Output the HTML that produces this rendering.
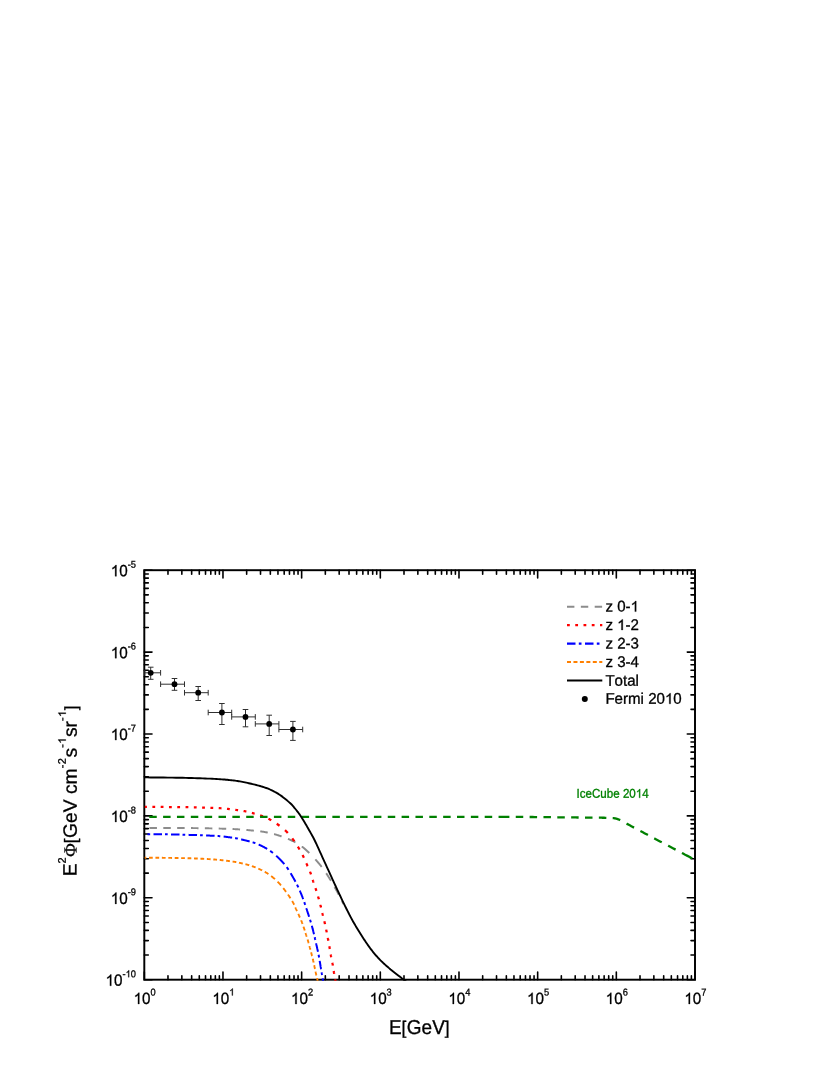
<!DOCTYPE html>
<html><head><meta charset="utf-8"><title>Chart</title>
<style>html,body{margin:0;padding:0;background:#fff;}svg{display:block;will-change:transform;}text{font-family:"Liberation Sans",sans-serif;fill:#000;stroke:#000;stroke-width:0.3px;font-kerning:none;white-space:pre;}tspan.h{fill:none !important;stroke:none !important;}</style>
</head><body>
<svg width="830" height="1075" viewBox="0 0 830 1075">
<rect x="0" y="0" width="830" height="1075" fill="#ffffff"/>
<defs><clipPath id="clip"><rect x="143.30" y="569.20" width="552.70" height="411.50"/></clipPath></defs>
<rect x="144.30" y="570.20" width="550.70" height="409.50" stroke="#000" stroke-width="1.95" fill="none"/>
<path d="M144.30 979.70 v-7.70 M144.30 570.20 v7.70 M167.98 979.70 v-4.00 M167.98 570.20 v4.00 M181.84 979.70 v-4.00 M181.84 570.20 v4.00 M191.66 979.70 v-4.00 M191.66 570.20 v4.00 M199.29 979.70 v-4.00 M199.29 570.20 v4.00 M205.52 979.70 v-4.00 M205.52 570.20 v4.00 M210.79 979.70 v-4.00 M210.79 570.20 v4.00 M215.35 979.70 v-4.00 M215.35 570.20 v4.00 M219.37 979.70 v-4.00 M219.37 570.20 v4.00 M222.97 979.70 v-7.70 M222.97 570.20 v7.70 M246.65 979.70 v-4.00 M246.65 570.20 v4.00 M260.51 979.70 v-4.00 M260.51 570.20 v4.00 M270.34 979.70 v-4.00 M270.34 570.20 v4.00 M277.96 979.70 v-4.00 M277.96 570.20 v4.00 M284.19 979.70 v-4.00 M284.19 570.20 v4.00 M289.46 979.70 v-4.00 M289.46 570.20 v4.00 M294.02 979.70 v-4.00 M294.02 570.20 v4.00 M298.04 979.70 v-4.00 M298.04 570.20 v4.00 M301.64 979.70 v-7.70 M301.64 570.20 v7.70 M325.33 979.70 v-4.00 M325.33 570.20 v4.00 M339.18 979.70 v-4.00 M339.18 570.20 v4.00 M349.01 979.70 v-4.00 M349.01 570.20 v4.00 M356.63 979.70 v-4.00 M356.63 570.20 v4.00 M362.86 979.70 v-4.00 M362.86 570.20 v4.00 M368.13 979.70 v-4.00 M368.13 570.20 v4.00 M372.69 979.70 v-4.00 M372.69 570.20 v4.00 M376.71 979.70 v-4.00 M376.71 570.20 v4.00 M380.31 979.70 v-7.70 M380.31 570.20 v7.70 M404.00 979.70 v-4.00 M404.00 570.20 v4.00 M417.85 979.70 v-4.00 M417.85 570.20 v4.00 M427.68 979.70 v-4.00 M427.68 570.20 v4.00 M435.30 979.70 v-4.00 M435.30 570.20 v4.00 M441.53 979.70 v-4.00 M441.53 570.20 v4.00 M446.80 979.70 v-4.00 M446.80 570.20 v4.00 M451.36 979.70 v-4.00 M451.36 570.20 v4.00 M455.39 979.70 v-4.00 M455.39 570.20 v4.00 M458.99 979.70 v-7.70 M458.99 570.20 v7.70 M482.67 979.70 v-4.00 M482.67 570.20 v4.00 M496.52 979.70 v-4.00 M496.52 570.20 v4.00 M506.35 979.70 v-4.00 M506.35 570.20 v4.00 M513.97 979.70 v-4.00 M513.97 570.20 v4.00 M520.20 979.70 v-4.00 M520.20 570.20 v4.00 M525.47 979.70 v-4.00 M525.47 570.20 v4.00 M530.03 979.70 v-4.00 M530.03 570.20 v4.00 M534.06 979.70 v-4.00 M534.06 570.20 v4.00 M537.66 979.70 v-7.70 M537.66 570.20 v7.70 M561.34 979.70 v-4.00 M561.34 570.20 v4.00 M575.19 979.70 v-4.00 M575.19 570.20 v4.00 M585.02 979.70 v-4.00 M585.02 570.20 v4.00 M592.65 979.70 v-4.00 M592.65 570.20 v4.00 M598.88 979.70 v-4.00 M598.88 570.20 v4.00 M604.14 979.70 v-4.00 M604.14 570.20 v4.00 M608.70 979.70 v-4.00 M608.70 570.20 v4.00 M612.73 979.70 v-4.00 M612.73 570.20 v4.00 M616.33 979.70 v-7.70 M616.33 570.20 v7.70 M640.01 979.70 v-4.00 M640.01 570.20 v4.00 M653.86 979.70 v-4.00 M653.86 570.20 v4.00 M663.69 979.70 v-4.00 M663.69 570.20 v4.00 M671.32 979.70 v-4.00 M671.32 570.20 v4.00 M677.55 979.70 v-4.00 M677.55 570.20 v4.00 M682.81 979.70 v-4.00 M682.81 570.20 v4.00 M687.38 979.70 v-4.00 M687.38 570.20 v4.00 M691.40 979.70 v-4.00 M691.40 570.20 v4.00 M695.00 979.70 v-7.70 M695.00 570.20 v7.70 M144.30 570.20 h7.70 M695.00 570.20 h-7.70 M144.30 627.45 h4.00 M695.00 627.45 h-4.00 M144.30 613.02 h4.00 M695.00 613.02 h-4.00 M144.30 602.79 h4.00 M695.00 602.79 h-4.00 M144.30 594.85 h4.00 M695.00 594.85 h-4.00 M144.30 588.37 h4.00 M695.00 588.37 h-4.00 M144.30 582.89 h4.00 M695.00 582.89 h-4.00 M144.30 578.14 h4.00 M695.00 578.14 h-4.00 M144.30 573.95 h4.00 M695.00 573.95 h-4.00 M144.30 652.10 h7.70 M695.00 652.10 h-7.70 M144.30 709.35 h4.00 M695.00 709.35 h-4.00 M144.30 694.92 h4.00 M695.00 694.92 h-4.00 M144.30 684.69 h4.00 M695.00 684.69 h-4.00 M144.30 676.75 h4.00 M695.00 676.75 h-4.00 M144.30 670.27 h4.00 M695.00 670.27 h-4.00 M144.30 664.79 h4.00 M695.00 664.79 h-4.00 M144.30 660.04 h4.00 M695.00 660.04 h-4.00 M144.30 655.85 h4.00 M695.00 655.85 h-4.00 M144.30 734.00 h7.70 M695.00 734.00 h-7.70 M144.30 791.25 h4.00 M695.00 791.25 h-4.00 M144.30 776.82 h4.00 M695.00 776.82 h-4.00 M144.30 766.59 h4.00 M695.00 766.59 h-4.00 M144.30 758.65 h4.00 M695.00 758.65 h-4.00 M144.30 752.17 h4.00 M695.00 752.17 h-4.00 M144.30 746.69 h4.00 M695.00 746.69 h-4.00 M144.30 741.94 h4.00 M695.00 741.94 h-4.00 M144.30 737.75 h4.00 M695.00 737.75 h-4.00 M144.30 815.90 h7.70 M695.00 815.90 h-7.70 M144.30 873.15 h4.00 M695.00 873.15 h-4.00 M144.30 858.72 h4.00 M695.00 858.72 h-4.00 M144.30 848.49 h4.00 M695.00 848.49 h-4.00 M144.30 840.55 h4.00 M695.00 840.55 h-4.00 M144.30 834.07 h4.00 M695.00 834.07 h-4.00 M144.30 828.59 h4.00 M695.00 828.59 h-4.00 M144.30 823.84 h4.00 M695.00 823.84 h-4.00 M144.30 819.65 h4.00 M695.00 819.65 h-4.00 M144.30 897.80 h7.70 M695.00 897.80 h-7.70 M144.30 955.05 h4.00 M695.00 955.05 h-4.00 M144.30 940.62 h4.00 M695.00 940.62 h-4.00 M144.30 930.39 h4.00 M695.00 930.39 h-4.00 M144.30 922.45 h4.00 M695.00 922.45 h-4.00 M144.30 915.97 h4.00 M695.00 915.97 h-4.00 M144.30 910.49 h4.00 M695.00 910.49 h-4.00 M144.30 905.74 h4.00 M695.00 905.74 h-4.00 M144.30 901.55 h4.00 M695.00 901.55 h-4.00 M144.30 979.70 h7.70 M695.00 979.70 h-7.70" stroke="#000" stroke-width="1.6" stroke-linecap="round" fill="none"/>
<g stroke="#303030" stroke-width="1" fill="none">
<path d="M144.8 672.8 H160.6 M144.8 670.0 V675.6 M160.6 670.0 V675.6 M150.7 667.2 V679.3 M147.9 667.2 H153.5 M147.9 679.3 H153.5"/>
<path d="M160.6 684.2 H184.5 M160.6 681.4 V687.0 M184.5 681.4 V687.0 M174.5 678.5 V690.3 M171.7 678.5 H177.3 M171.7 690.3 H177.3"/>
<path d="M184.5 692.7 H208.2 M184.5 689.9 V695.5 M208.2 689.9 V695.5 M198.2 686.5 V700.5 M195.4 686.5 H201.0 M195.4 700.5 H201.0"/>
<path d="M208.2 712.5 H231.7 M208.2 709.7 V715.3 M231.7 709.7 V715.3 M221.9 703.5 V724.5 M219.1 703.5 H224.7 M219.1 724.5 H224.7"/>
<path d="M231.7 716.9 H255.3 M231.7 714.1 V719.7 M255.3 714.1 V719.7 M245.5 709.5 V726.8 M242.7 709.5 H248.3 M242.7 726.8 H248.3"/>
<path d="M255.3 723.9 H278.9 M255.3 721.1 V726.7 M278.9 721.1 V726.7 M269.2 715.2 V735.5 M266.4 715.2 H272.0 M266.4 735.5 H272.0"/>
<path d="M278.9 729.5 H302.7 M278.9 726.7 V732.3 M302.7 726.7 V732.3 M292.9 721.4 V740.4 M290.1 721.4 H295.7 M290.1 740.4 H295.7"/>
</g>
<g fill="#000">
<circle cx="150.7" cy="672.8" r="2.9"/>
<circle cx="174.5" cy="684.2" r="2.9"/>
<circle cx="198.2" cy="692.7" r="2.9"/>
<circle cx="221.9" cy="712.5" r="2.9"/>
<circle cx="245.5" cy="716.9" r="2.9"/>
<circle cx="269.2" cy="723.9" r="2.9"/>
<circle cx="292.9" cy="729.5" r="2.9"/>
</g>
<g clip-path="url(#clip)" fill="none" stroke-linecap="butt" stroke-linejoin="round">
<path d="M135.60 828.00 L135.79 828.00 L135.96 828.00 L136.13 828.00 L136.30 828.00 L136.47 828.00 L136.64 828.00 L136.83 828.00 L137.02 828.00 L137.23 828.00 L137.46 828.00 L137.72 828.00 L138.00 828.00 L138.31 828.00 L138.66 828.00 L139.04 828.00 L139.47 828.00 L139.94 828.00 L140.46 828.00 L141.03 828.00 L141.66 828.00 L142.34 828.00 L143.09 828.00 L143.10 828.00 M149.45 828.00 L150.70 828.00 L152.13 828.00 L153.62 827.99 L155.17 827.99 L156.76 827.99 L156.95 827.99 M163.30 827.99 L163.41 827.99 L165.09 827.99 L166.77 827.99 L168.43 827.99 L170.06 827.99 L170.80 827.99 M177.15 827.99 L177.52 827.99 L178.80 828.00 L180.00 828.00 L181.12 828.00 L182.20 828.01 L183.23 828.01 L184.21 828.02 L184.65 828.02 M191.00 828.08 L191.70 828.08 L192.44 828.09 L193.17 828.10 L193.90 828.11 L194.62 828.12 L195.36 828.13 L196.09 828.14 L196.84 828.15 L197.60 828.16 L198.38 828.18 L198.50 828.18 M204.85 828.28 L205.09 828.28 L205.95 828.30 L206.81 828.31 L207.68 828.33 L208.54 828.34 L209.39 828.36 L210.25 828.38 L211.10 828.39 L211.95 828.41 L212.35 828.42 M218.70 828.57 L219.24 828.58 L220.00 828.60 L220.74 828.62 L221.48 828.64 L222.21 828.66 L222.92 828.68 L223.63 828.70 L224.33 828.72 L225.02 828.75 L225.70 828.77 L226.20 828.78 M232.55 829.02 L232.87 829.04 L233.50 829.07 L234.12 829.10 L234.75 829.13 L235.37 829.17 L236.00 829.20 L236.62 829.24 L237.24 829.27 L237.85 829.31 L238.45 829.35 L239.05 829.39 L239.64 829.43 L240.05 829.46 M246.40 829.97 L246.55 829.98 L247.12 830.03 L247.69 830.08 L248.26 830.14 L248.84 830.19 L249.42 830.24 L250.00 830.30 L250.58 830.36 L251.17 830.41 L251.75 830.47 L252.34 830.52 L252.93 830.57 L253.51 830.63 L253.90 830.66 M260.25 831.34 L260.54 831.38 L261.12 831.45 L261.70 831.53 L262.27 831.62 L262.85 831.71 L263.43 831.80 L264.00 831.90 L264.57 832.00 L265.14 832.10 L265.71 832.21 L266.28 832.32 L266.84 832.43 L267.40 832.54 L267.75 832.61 M274.10 834.12 L274.12 834.12 L274.68 834.28 L275.24 834.43 L275.80 834.59 L276.37 834.76 L276.93 834.93 L277.50 835.10 L278.07 835.28 L278.65 835.46 L279.24 835.65 L279.82 835.84 L280.42 836.04 L281.01 836.24 L281.60 836.44 M287.95 838.84 L288.10 838.90 L288.65 839.13 L289.20 839.36 L289.75 839.60 L290.28 839.83 L290.79 840.07 L291.30 840.30 L291.80 840.53 L292.29 840.77 L292.77 841.01 L293.25 841.25 L293.72 841.50 L294.18 841.74 L294.63 841.99 L295.09 842.24 L295.45 842.45 M301.80 846.51 L301.85 846.55 L302.20 846.80 L302.53 847.05 L302.86 847.29 L303.18 847.54 L303.49 847.78 L303.79 848.03 L304.09 848.27 L304.38 848.52 L304.67 848.76 L304.95 849.01 L305.23 849.26 L305.51 849.50 L305.78 849.75 L306.05 850.00 L306.32 850.25 L306.59 850.50 L306.86 850.75 L307.13 851.00 L307.40 851.26 L307.67 851.52 L307.94 851.78 L308.22 852.04 L308.50 852.30 L308.78 852.57 L309.06 852.83 L309.30 853.06 M315.36 859.40 L315.52 859.58 L315.78 859.87 L316.05 860.16 L316.31 860.45 L316.57 860.75 L316.83 861.04 L317.09 861.34 L317.35 861.64 L317.61 861.94 L317.87 862.23 L318.12 862.53 L318.38 862.83 L318.63 863.12 L318.88 863.42 L319.13 863.71 L319.37 864.01 L319.62 864.30 L319.86 864.59 L320.09 864.88 L320.33 865.16 L320.55 865.44 L320.78 865.72 L321.00 866.00 L321.22 866.27 L321.43 866.54 L321.63 866.81 L321.70 866.90 M326.20 873.25 L326.26 873.32 L326.45 873.61 L326.64 873.90 L326.83 874.19 L327.02 874.48 L327.21 874.78 L327.40 875.07 L327.59 875.37 L327.78 875.66 L327.97 875.96 L328.16 876.26 L328.35 876.55 L328.54 876.85 L328.72 877.15 L328.91 877.45 L329.10 877.74 L329.28 878.04 L329.46 878.33 L329.64 878.62 L329.82 878.91 L330.00 879.20 L330.18 879.49 L330.35 879.77 L330.52 880.06 L330.70 880.34 L330.87 880.62 L330.94 880.75 M334.63 887.10 L334.65 887.14 L334.81 887.41 L334.96 887.69 L335.12 887.96 L335.28 888.24 L335.43 888.51 L335.59 888.79 L335.75 889.07 L335.91 889.35 L336.07 889.64 L336.23 889.92 L336.39 890.22 L336.56 890.52 L336.72 890.82 L336.89 891.14 L337.07 891.46 L337.25 891.79 L337.43 892.13 L337.61 892.47 L337.80 892.83 L338.00 893.20 L338.21 893.59 L338.42 894.01 L338.65 894.45 L338.73 894.60 M341.96 900.95 L342.02 901.07 L342.25 901.53 L342.48 901.98 L342.69 902.39 L342.88 902.78 L343.07 903.14 L343.23 903.47 L343.37 903.75 L343.50 904.00" stroke="#8c8c8c" stroke-width="1.95"/>
<path d="M144.80 806.90 L145.61 806.90 L146.55 806.91 L146.90 806.91 M152.39 806.94 L152.95 806.94 L154.49 806.94 L155.19 806.95 M160.68 806.97 L161.15 806.98 L162.89 806.98 L163.48 806.99 M168.97 807.02 L169.78 807.02 L171.44 807.03 L171.77 807.03 M177.26 807.07 L177.49 807.08 L178.79 807.09 L180.00 807.10 L180.06 807.10 M185.55 807.17 L186.07 807.18 L186.95 807.19 L187.79 807.21 L188.35 807.22 M193.84 807.34 L193.90 807.34 L194.62 807.36 L195.36 807.37 L196.09 807.39 L196.64 807.41 M202.13 807.56 L202.52 807.57 L203.37 807.59 L204.23 807.61 L204.93 807.62 M210.42 807.77 L211.07 807.79 L211.91 807.82 L212.76 807.84 L213.22 807.86 M218.71 808.12 L219.23 808.15 L220.00 808.20 L220.76 808.25 L221.51 808.31 M227.00 808.84 L227.54 808.90 L228.27 808.99 L228.99 809.07 L229.69 809.15 L229.80 809.17 M235.29 809.85 L235.43 809.87 L235.97 809.94 L236.50 810.00 L237.00 810.06 L237.47 810.12 L237.92 810.17 L238.09 810.19 M243.58 810.99 L243.73 811.02 L244.04 811.07 L244.36 811.14 L244.70 811.20 L245.04 811.27 L245.39 811.34 L245.73 811.41 L246.08 811.48 L246.38 811.55 M251.87 812.90 L251.96 812.92 L252.31 813.01 L252.65 813.11 L253.00 813.20 L253.35 813.29 L253.69 813.39 L254.04 813.48 L254.38 813.58 L254.67 813.65 M260.16 815.29 L260.27 815.33 L260.61 815.45 L260.96 815.57 L261.30 815.70 L261.64 815.83 L261.99 815.96 L262.33 816.09 L262.67 816.22 L262.96 816.33 M268.45 818.76 L268.47 818.77 L268.81 818.94 L269.16 819.12 L269.50 819.30 L269.84 819.48 L270.19 819.67 L270.53 819.86 L270.88 820.06 L271.22 820.25 L271.25 820.27 M276.74 823.75 L276.76 823.76 L277.10 824.01 L277.45 824.25 L277.80 824.50 L278.15 824.75 L278.50 825.01 L278.85 825.26 L279.21 825.52 L279.54 825.76 M285.03 830.19 L285.21 830.36 L285.55 830.67 L285.87 830.98 L286.20 831.30 L286.52 831.62 L286.84 831.95 L287.16 832.28 L287.48 832.62 L287.76 832.93 M292.26 838.42 L292.50 838.74 L292.77 839.10 L293.04 839.45 L293.30 839.80 L293.56 840.15 L293.81 840.49 L294.06 840.84 L294.31 841.18 L294.33 841.22 M297.92 846.71 L298.08 846.97 L298.29 847.31 L298.49 847.66 L298.70 848.00 L298.91 848.34 L299.11 848.69 L299.31 849.03 L299.51 849.38 L299.59 849.51 M302.55 855.00 L302.68 855.26 L302.85 855.60 L303.03 855.95 L303.20 856.30 L303.37 856.65 L303.54 857.00 L303.71 857.35 L303.88 857.70 L303.93 857.80 M306.38 863.29 L306.39 863.31 L306.54 863.66 L306.70 864.01 L306.85 864.35 L307.00 864.70 L307.15 865.05 L307.30 865.39 L307.46 865.73 L307.61 866.08 L307.62 866.09 M309.99 871.58 L310.10 871.87 L310.24 872.21 L310.37 872.55 L310.50 872.90 L310.63 873.25 L310.75 873.59 L310.88 873.94 L311.00 874.29 L311.03 874.38 M312.74 879.87 L312.75 879.90 L312.86 880.25 L312.97 880.60 L313.09 880.95 L313.20 881.30 L313.32 881.65 L313.43 882.00 L313.55 882.35 L313.65 882.67 M315.50 888.16 L315.55 888.31 L315.66 888.65 L315.78 889.00 L315.89 889.35 L316.00 889.70 L316.11 890.05 L316.22 890.40 L316.33 890.74 L316.40 890.96 M318.05 896.45 L318.10 896.62 L318.20 896.97 L318.30 897.31 L318.40 897.66 L318.50 898.00 L318.60 898.34 L318.69 898.69 L318.79 899.03 L318.85 899.25 M320.33 904.74 L320.35 904.83 L320.44 905.17 L320.52 905.51 L320.61 905.86 L320.70 906.20 L320.79 906.54 L320.87 906.89 L320.96 907.23 L321.04 907.54 M322.35 913.03 L322.37 913.12 L322.45 913.46 L322.53 913.81 L322.62 914.15 L322.70 914.50 L322.78 914.85 L322.87 915.19 L322.95 915.54 L323.02 915.83 M324.36 921.32 L324.38 921.41 L324.46 921.76 L324.54 922.10 L324.62 922.45 L324.70 922.80 L324.78 923.15 L324.86 923.50 L324.94 923.85 L325.00 924.12 M326.17 929.61 L326.21 929.80 L326.29 930.15 L326.36 930.50 L326.43 930.85 L326.50 931.20 L326.57 931.55 L326.64 931.90 L326.71 932.24 L326.74 932.41 M327.80 937.90 L327.84 938.12 L327.91 938.46 L327.97 938.81 L328.04 939.15 L328.10 939.50 L328.16 939.85 L328.23 940.19 L328.29 940.54 L328.32 940.70 M329.32 946.19 L329.36 946.42 L329.42 946.76 L329.48 947.11 L329.54 947.45 L329.60 947.80 L329.66 948.15 L329.72 948.49 L329.78 948.84 L329.80 948.99 M330.71 954.48 L330.75 954.71 L330.81 955.06 L330.87 955.40 L330.94 955.75 L331.00 956.10 L331.07 956.45 L331.13 956.80 L331.20 957.15 L331.23 957.28 M332.37 962.77 L332.44 963.10 L332.50 963.45 L332.57 963.80 L332.64 964.15 L332.70 964.50 L332.76 964.85 L332.82 965.20 L332.88 965.55 L332.88 965.57 M333.72 971.06 L333.74 971.14 L333.79 971.48 L333.84 971.82 L333.89 972.15 L333.95 972.48 L334.00 972.80 L334.05 973.12 L334.11 973.45 L334.17 973.78 L334.18 973.86 M335.18 979.35 L335.22 979.55 L335.26 979.78 L335.30 980.00 L335.34 980.21 L335.37 980.41 L335.40 980.60 L335.44 980.78 L335.46 980.95 L335.49 981.12 L335.52 981.27 L335.54 981.42 L335.57 981.56 L335.59 981.70 L335.61 981.83 L335.63 981.95 L335.65 982.07 L335.66 982.15" stroke="#ff0000" stroke-width="2.25"/>
<path d="M147.47 834.22 L147.60 834.22 L148.49 834.22 L149.45 834.23 L150.17 834.23 M153.50 834.25 L153.78 834.25 L154.95 834.26 L156.15 834.27 L157.37 834.28 L158.59 834.29 L159.82 834.29 L161.05 834.30 L162.00 834.31 M165.00 834.34 L165.81 834.35 L166.93 834.36 L167.70 834.37 M171.03 834.42 L171.86 834.43 L172.78 834.45 L173.69 834.47 L174.59 834.48 L175.48 834.50 L176.36 834.52 L177.24 834.54 L178.10 834.57 L178.96 834.59 L179.53 834.60 M182.53 834.68 L183.09 834.70 L183.90 834.72 L184.69 834.75 L185.23 834.76 M188.56 834.86 L189.27 834.88 L190.00 834.90 L190.72 834.92 L191.43 834.94 L192.11 834.96 L192.79 834.98 L193.45 835.00 L194.10 835.02 L194.74 835.04 L195.37 835.06 L195.99 835.07 L196.60 835.09 L197.06 835.11 M200.06 835.21 L200.19 835.21 L200.78 835.23 L201.37 835.25 L201.96 835.28 L202.56 835.30 L202.76 835.31 M206.09 835.45 L206.26 835.45 L206.90 835.48 L207.55 835.51 L208.19 835.54 L208.84 835.57 L209.50 835.60 L210.15 835.63 L210.80 835.66 L211.45 835.69 L212.10 835.72 L212.75 835.75 L213.39 835.78 L214.03 835.82 L214.59 835.85 M217.59 836.03 L217.73 836.03 L218.32 836.07 L218.89 836.11 L219.45 836.16 L220.00 836.20 L220.29 836.22 M223.62 836.55 L223.68 836.56 L224.18 836.61 L224.67 836.67 L225.16 836.73 L225.64 836.79 L226.11 836.85 L226.58 836.91 L227.03 836.97 L227.48 837.03 L227.91 837.09 L228.34 837.14 L228.75 837.20 L229.16 837.25 L229.55 837.31 L229.93 837.36 L230.30 837.41 L230.66 837.45 L231.00 837.50 L231.32 837.54 L231.62 837.58 L231.90 837.62 L232.12 837.64 M235.12 838.09 L235.19 838.10 L235.42 838.15 L235.66 838.19 L235.92 838.24 L236.20 838.30 L236.50 838.36 L236.81 838.42 L237.13 838.49 L237.46 838.56 L237.80 838.63 L237.82 838.64 M241.15 839.38 L241.16 839.38 L241.55 839.48 L241.94 839.57 L242.33 839.66 L242.72 839.75 L243.11 839.84 L243.50 839.94 L243.88 840.03 L244.26 840.12 L244.63 840.21 L245.00 840.30 L245.36 840.39 L245.73 840.48 L246.09 840.56 L246.45 840.65 L246.82 840.73 L247.18 840.82 L247.54 840.90 L247.90 840.99 L248.26 841.07 L248.62 841.16 L248.98 841.25 L249.34 841.34 L249.65 841.41 M252.65 842.25 L252.97 842.35 L253.33 842.48 L253.70 842.60 L254.07 842.73 L254.44 842.86 L254.80 842.99 L255.17 843.13 L255.35 843.20 M258.68 844.54 L258.90 844.63 L259.27 844.80 L259.64 844.97 L260.01 845.14 L260.38 845.31 L260.76 845.48 L261.13 845.66 L261.50 845.84 L261.86 846.03 L262.23 846.21 L262.60 846.40 L262.97 846.59 L263.33 846.78 L263.70 846.98 L264.06 847.17 L264.43 847.37 L264.79 847.57 L265.16 847.77 L265.52 847.97 L265.89 848.18 L266.25 848.39 L266.61 848.60 L266.98 848.82 L267.18 848.94 M270.18 850.89 L270.22 850.92 L270.58 851.18 L270.94 851.44 L271.30 851.70 L271.66 851.97 L272.02 852.25 L272.38 852.53 L272.74 852.81 L272.88 852.92 M276.21 855.77 L276.36 855.91 L276.72 856.23 L277.07 856.56 L277.42 856.89 L277.77 857.22 L278.12 857.55 L278.46 857.88 L278.80 858.21 L279.14 858.54 L279.47 858.87 L279.80 859.20 L280.13 859.53 L280.45 859.86 L280.77 860.20 L281.09 860.53 L281.41 860.87 L281.73 861.20 L282.05 861.54 L282.36 861.89 L282.67 862.23 L282.98 862.57 L283.28 862.92 L283.59 863.26 L283.89 863.61 L284.19 863.96 L284.31 864.11 M286.71 867.11 L286.73 867.14 L287.00 867.50 L287.26 867.86 L287.52 868.22 L287.77 868.59 L288.02 868.95 L288.27 869.32 L288.51 869.69 L288.59 869.81 M290.62 873.14 L290.79 873.43 L291.01 873.81 L291.22 874.18 L291.44 874.56 L291.65 874.93 L291.86 875.30 L292.08 875.67 L292.29 876.03 L292.50 876.40 L292.71 876.76 L292.92 877.13 L293.13 877.49 L293.34 877.85 L293.54 878.21 L293.75 878.56 L293.95 878.92 L294.15 879.28 L294.35 879.63 L294.55 879.99 L294.75 880.34 L294.94 880.70 L295.14 881.06 L295.33 881.41 L295.46 881.64 M297.02 884.64 L297.20 885.00 L297.38 885.37 L297.56 885.73 L297.74 886.10 L297.92 886.47 L298.09 886.83 L298.27 887.20 L298.33 887.34 M299.83 890.67 L299.94 890.92 L300.11 891.30 L300.27 891.67 L300.42 892.04 L300.58 892.41 L300.74 892.79 L300.89 893.16 L301.05 893.53 L301.20 893.90 L301.35 894.27 L301.50 894.64 L301.65 895.01 L301.80 895.39 L301.94 895.76 L302.08 896.13 L302.23 896.50 L302.37 896.87 L302.51 897.25 L302.64 897.62 L302.78 897.99 L302.92 898.36 L303.05 898.73 L303.19 899.11 L303.21 899.17 M304.28 902.17 L304.37 902.43 L304.50 902.80 L304.63 903.17 L304.76 903.53 L304.88 903.90 L305.01 904.26 L305.13 904.63 L305.21 904.87 M306.32 908.20 L306.34 908.25 L306.46 908.61 L306.57 908.97 L306.69 909.33 L306.81 909.69 L306.93 910.05 L307.05 910.41 L307.16 910.78 L307.28 911.14 L307.40 911.50 L307.52 911.86 L307.64 912.22 L307.76 912.59 L307.88 912.95 L308.00 913.31 L308.11 913.67 L308.23 914.03 L308.35 914.40 L308.47 914.76 L308.59 915.12 L308.71 915.48 L308.82 915.84 L308.94 916.21 L309.06 916.57 L309.10 916.70 M310.05 919.70 L310.09 919.84 L310.20 920.20 L310.31 920.56 L310.42 920.93 L310.53 921.30 L310.64 921.66 L310.75 922.03 L310.86 922.40 L310.86 922.40 M311.81 925.73 L311.91 926.07 L312.01 926.44 L312.11 926.80 L312.21 927.17 L312.31 927.54 L312.41 927.90 L312.51 928.27 L312.60 928.64 L312.70 929.00 L312.80 929.36 L312.89 929.73 L312.98 930.09 L313.07 930.45 L313.17 930.82 L313.26 931.18 L313.34 931.54 L313.43 931.90 L313.52 932.27 L313.61 932.63 L313.70 932.99 L313.78 933.35 L313.87 933.71 L313.95 934.07 L313.99 934.23 M314.69 937.23 L314.71 937.34 L314.80 937.70 L314.89 938.06 L314.97 938.43 L315.06 938.80 L315.14 939.16 L315.22 939.53 L315.31 939.89 L315.32 939.93 M316.08 943.26 L316.14 943.56 L316.23 943.93 L316.31 944.30 L316.39 944.66 L316.47 945.03 L316.56 945.40 L316.64 945.77 L316.72 946.13 L316.80 946.50 L316.88 946.87 L316.96 947.23 L317.05 947.60 L317.13 947.97 L317.21 948.34 L317.29 948.70 L317.37 949.07 L317.46 949.44 L317.54 949.80 L317.62 950.17 L317.70 950.54 L317.78 950.91 L317.86 951.27 L317.94 951.64 L317.97 951.76 M318.59 954.76 L318.63 954.94 L318.70 955.30 L318.77 955.66 L318.84 956.03 L318.91 956.39 L318.97 956.75 L319.04 957.12 L319.10 957.46 M319.66 960.79 L319.71 961.10 L319.77 961.46 L319.83 961.82 L319.89 962.18 L319.95 962.55 L320.02 962.91 L320.08 963.27 L320.14 963.64 L320.20 964.00 L320.26 964.37 L320.33 964.74 L320.39 965.11 L320.45 965.48 L320.52 965.86 L320.58 966.24 L320.65 966.62 L320.71 967.00 L320.78 967.38 L320.85 967.76 L320.91 968.13 L320.97 968.51 L321.04 968.89 L321.10 969.26 L321.11 969.29 M321.62 972.29 L321.65 972.47 L321.70 972.80 L321.75 973.13 L321.81 973.45 L321.86 973.78 L321.91 974.10 L321.97 974.42 L322.02 974.74 L322.06 974.99 M322.58 978.32 L322.62 978.53 L322.66 978.78 L322.69 979.02 L322.73 979.26 L322.77 979.48 L322.80 979.70 L322.83 979.91 L322.86 980.11 L322.89 980.31 L322.92 980.50 L322.95 980.68 L322.98 980.86 L323.00 981.03 L323.03 981.19 L323.05 981.35 L323.08 981.50 L323.10 981.64 L323.12 981.78 L323.14 981.91 L323.16 982.04 L323.18 982.16 L323.19 982.28 L323.21 982.39 L323.22 982.49 L323.24 982.59 L323.25 982.68 L323.27 982.77 L323.28 982.85 L323.29 982.93 L323.30 983.00" stroke="#0000ff" stroke-width="2.0"/>
<path d="M144.80 857.70 L145.37 857.70 L146.03 857.71 L146.32 857.71 M149.00 857.73 L149.45 857.73 L150.46 857.74 L151.53 857.74 L152.63 857.75 L152.75 857.75 M155.43 857.77 L156.15 857.77 L157.37 857.78 L158.59 857.79 L159.18 857.80 M161.86 857.82 L162.27 857.82 L163.48 857.83 L164.66 857.84 L165.61 857.85 M168.29 857.88 L169.03 857.89 L170.00 857.90 L170.94 857.91 L171.86 857.93 L172.04 857.93 M174.72 857.97 L175.48 857.98 L176.36 858.00 L177.24 858.01 L178.10 858.03 L178.47 858.03 M181.15 858.09 L181.47 858.09 L182.28 858.11 L183.09 858.13 L183.90 858.14 L184.69 858.16 L184.90 858.17 M187.58 858.23 L187.77 858.24 L188.52 858.26 L189.27 858.28 L190.00 858.30 L190.72 858.32 L191.33 858.34 M194.01 858.42 L194.10 858.42 L194.74 858.45 L195.37 858.47 L195.99 858.49 L196.60 858.51 L197.21 858.53 L197.76 858.55 M200.44 858.67 L200.78 858.68 L201.37 858.71 L201.96 858.74 L202.56 858.77 L203.16 858.80 L203.77 858.83 L204.19 858.85 M206.87 859.01 L206.88 859.01 L207.51 859.05 L208.14 859.08 L208.77 859.12 L209.40 859.16 L210.03 859.20 L210.62 859.24 M213.30 859.43 L213.81 859.47 L214.43 859.51 L215.06 859.56 L215.68 859.61 L216.31 859.66 L216.93 859.72 L217.05 859.73 M219.73 859.97 L220.00 860.00 L220.61 860.06 L221.24 860.13 L221.87 860.19 L222.50 860.27 L223.14 860.34 L223.48 860.38 M226.16 860.70 L226.36 860.73 L227.00 860.81 L227.63 860.89 L228.25 860.97 L228.87 861.05 L229.47 861.13 L229.91 861.19 M232.59 861.56 L232.80 861.59 L233.29 861.67 L233.76 861.73 L234.20 861.80 L234.62 861.86 L235.01 861.93 L235.38 861.99 L235.73 862.04 L236.06 862.10 L236.34 862.15 M239.02 862.71 L239.05 862.72 L239.27 862.77 L239.49 862.82 L239.72 862.88 L239.95 862.93 L240.19 862.99 L240.44 863.04 L240.70 863.10 L240.97 863.16 L241.23 863.22 L241.50 863.27 L241.76 863.33 L242.02 863.39 L242.28 863.45 L242.54 863.50 L242.77 863.56 M245.45 864.19 L245.67 864.24 L245.93 864.31 L246.20 864.38 L246.47 864.45 L246.73 864.53 L247.00 864.60 L247.27 864.68 L247.54 864.75 L247.81 864.83 L248.08 864.91 L248.36 864.99 L248.63 865.07 L248.90 865.15 L249.18 865.23 L249.20 865.24 M251.88 866.09 L251.94 866.11 L252.22 866.21 L252.50 866.30 L252.77 866.40 L253.05 866.50 L253.32 866.60 L253.60 866.70 L253.88 866.80 L254.15 866.91 L254.43 867.01 L254.70 867.12 L254.98 867.23 L255.26 867.34 L255.53 867.45 L255.63 867.49 M258.31 868.63 L258.57 868.75 L258.84 868.87 L259.12 869.00 L259.39 869.12 L259.66 869.25 L259.93 869.37 L260.20 869.50 L260.47 869.63 L260.73 869.75 L261.00 869.88 L261.27 870.00 L261.53 870.13 L261.79 870.26 L262.05 870.38 L262.06 870.39 M264.74 871.77 L264.92 871.86 L265.18 872.01 L265.44 872.16 L265.70 872.32 L265.97 872.47 L266.23 872.64 L266.50 872.80 L266.77 872.97 L267.04 873.14 L267.31 873.31 L267.58 873.49 L267.85 873.67 L268.12 873.86 L268.40 874.04 L268.49 874.11 M271.17 876.05 L271.41 876.23 L271.68 876.44 L271.94 876.65 L272.21 876.86 L272.48 877.07 L272.74 877.29 L273.00 877.50 L273.26 877.72 L273.52 877.93 L273.78 878.15 L274.03 878.37 L274.29 878.59 L274.54 878.81 L274.80 879.03 L274.92 879.14 M277.60 881.65 L277.78 881.83 L278.02 882.08 L278.27 882.33 L278.51 882.58 L278.76 882.84 L279.00 883.10 L279.24 883.36 L279.49 883.63 L279.74 883.90 L279.98 884.18 L280.23 884.46 L280.47 884.75 L280.72 885.04 L280.97 885.33 L281.03 885.40 M283.21 888.08 L283.37 888.29 L283.60 888.58 L283.82 888.87 L284.05 889.16 L284.27 889.44 L284.49 889.72 L284.70 890.00 L284.91 890.27 L285.12 890.55 L285.32 890.81 L285.53 891.08 L285.72 891.35 L285.92 891.61 L286.09 891.83 M287.99 894.51 L288.14 894.73 L288.32 894.98 L288.49 895.25 L288.67 895.51 L288.85 895.77 L289.02 896.03 L289.20 896.30 L289.38 896.57 L289.55 896.84 L289.73 897.10 L289.91 897.37 L290.08 897.64 L290.26 897.92 L290.44 898.19 L290.49 898.26 M292.15 900.94 L292.29 901.18 L292.45 901.46 L292.60 901.73 L292.76 902.00 L292.91 902.26 L293.05 902.53 L293.20 902.80 L293.34 903.07 L293.48 903.33 L293.62 903.60 L293.75 903.86 L293.88 904.13 L294.00 904.39 L294.13 904.66 L294.15 904.69 M295.33 907.37 L295.41 907.54 L295.52 907.80 L295.64 908.06 L295.75 908.32 L295.87 908.58 L295.98 908.84 L296.10 909.10 L296.22 909.36 L296.34 909.61 L296.45 909.87 L296.57 910.12 L296.69 910.38 L296.81 910.63 L296.92 910.88 L297.04 911.12 M298.27 913.80 L298.32 913.91 L298.43 914.16 L298.55 914.42 L298.67 914.68 L298.78 914.94 L298.90 915.20 L299.02 915.46 L299.13 915.73 L299.25 915.99 L299.37 916.26 L299.49 916.53 L299.61 916.80 L299.73 917.07 L299.85 917.34 L299.95 917.55 M301.11 920.23 L301.15 920.34 L301.26 920.61 L301.37 920.88 L301.48 921.16 L301.59 921.43 L301.70 921.70 L301.81 921.97 L301.91 922.24 L302.01 922.51 L302.11 922.78 L302.22 923.05 L302.31 923.33 L302.41 923.60 L302.51 923.87 L302.55 923.98 M303.48 926.66 L303.54 926.85 L303.63 927.12 L303.73 927.39 L303.82 927.66 L303.91 927.93 L304.00 928.20 L304.09 928.47 L304.18 928.74 L304.27 929.01 L304.36 929.28 L304.45 929.55 L304.54 929.83 L304.63 930.10 L304.72 930.37 L304.73 930.41 M305.59 933.09 L305.67 933.35 L305.76 933.62 L305.84 933.89 L305.93 934.16 L306.01 934.43 L306.10 934.70 L306.19 934.97 L306.27 935.24 L306.36 935.51 L306.44 935.78 L306.53 936.05 L306.61 936.33 L306.70 936.60 L306.77 936.84 M307.60 939.52 L307.62 939.58 L307.70 939.85 L307.78 940.12 L307.86 940.39 L307.94 940.66 L308.02 940.93 L308.10 941.20 L308.18 941.47 L308.26 941.74 L308.34 942.01 L308.41 942.28 L308.49 942.55 L308.57 942.83 L308.64 943.10 L308.69 943.27 M309.43 945.95 L309.46 946.08 L309.53 946.35 L309.61 946.62 L309.68 946.89 L309.75 947.16 L309.83 947.43 L309.90 947.70 L309.97 947.97 L310.05 948.24 L310.12 948.51 L310.19 948.78 L310.26 949.05 L310.33 949.33 L310.41 949.60 L310.43 949.70 M311.14 952.38 L311.18 952.58 L311.25 952.85 L311.32 953.12 L311.39 953.39 L311.46 953.66 L311.53 953.93 L311.60 954.20 L311.67 954.47 L311.74 954.74 L311.81 955.01 L311.87 955.28 L311.94 955.55 L312.01 955.83 L312.08 956.10 L312.09 956.13 M312.75 958.81 L312.82 959.08 L312.88 959.35 L312.95 959.62 L313.01 959.89 L313.07 960.16 L313.14 960.43 L313.20 960.70 L313.26 960.97 L313.32 961.24 L313.38 961.51 L313.44 961.78 L313.50 962.05 L313.56 962.33 L313.62 962.56 M314.19 965.24 L314.20 965.30 L314.25 965.58 L314.31 965.85 L314.37 966.12 L314.43 966.39 L314.48 966.66 L314.54 966.93 L314.60 967.20 L314.66 967.47 L314.72 967.74 L314.78 968.02 L314.83 968.29 L314.89 968.56 L314.95 968.84 L314.98 968.99 M315.56 971.67 L315.59 971.84 L315.65 972.11 L315.71 972.38 L315.77 972.65 L315.82 972.91 L315.88 973.18 L315.94 973.44 L316.00 973.70 L316.06 973.96 L316.12 974.23 L316.18 974.49 L316.24 974.76 L316.31 975.03 L316.37 975.30 L316.40 975.42 M317.04 978.10 L317.05 978.16 L317.11 978.40 L317.16 978.63 L317.21 978.86 L317.26 979.08 L317.31 979.30 L317.36 979.50 L317.40 979.70 L317.44 979.89 L317.48 980.08 L317.52 980.26 L317.55 980.44 L317.59 980.62 L317.62 980.79 L317.65 980.96 L317.68 981.12 L317.71 981.28 L317.74 981.43 L317.76 981.58 L317.79 981.73 L317.81 981.85" stroke="#ff8000" stroke-width="1.9"/>
<path d="M135.40 816.80 L138.54 816.80 L142.48 816.80 L142.90 816.80 M149.25 816.80 L152.32 816.80 L156.75 816.80 M163.10 816.80 L163.95 816.80 L170.14 816.80 L170.60 816.80 M176.95 816.80 L182.66 816.80 L184.45 816.80 M190.80 816.80 L194.57 816.80 L198.30 816.80 M204.65 816.80 L205.17 816.80 L210.28 816.80 L212.15 816.80 M218.50 816.80 L220.40 816.80 L225.40 816.80 L226.00 816.80 M232.35 816.80 L235.34 816.80 L239.85 816.80 M246.20 816.80 L250.14 816.80 L253.70 816.80 M260.05 816.80 L264.92 816.80 L267.55 816.80 M273.90 816.80 L274.66 816.80 L279.50 816.80 L281.40 816.80 M287.75 816.80 L289.16 816.80 L293.99 816.80 L295.25 816.80 M301.60 816.80 L303.70 816.80 L308.59 816.80 L309.10 816.80 M315.45 816.80 L318.50 816.80 M318.50 816.80 L323.52 816.80 L326.00 816.80 M332.35 816.80 L333.70 816.80 L338.83 816.80 L339.85 816.80 M346.20 816.80 L349.16 816.80 L353.70 816.80 M360.05 816.80 L364.66 816.80 L367.55 816.80 M373.90 816.80 L374.92 816.80 L380.00 816.80 L381.40 816.80 M387.75 816.80 L390.06 816.80 L395.06 816.80 L395.25 816.80 M401.60 816.80 L405.01 816.80 L409.10 816.80 M415.45 816.80 L419.91 816.80 L422.95 816.80 M429.30 816.80 L429.91 816.80 L434.94 816.80 L436.80 816.80 M443.15 816.80 L445.20 816.80 L450.60 816.80 L450.65 816.80 M457.00 816.79 L461.74 816.79 L464.50 816.79 M470.85 816.79 L472.94 816.79 L478.35 816.79 M484.70 816.79 L488.76 816.79 L492.20 816.79 M498.55 816.79 L501.90 816.80 M501.90 816.80 L505.42 816.81 L508.52 816.82 L509.40 816.82 M515.75 816.86 L515.91 816.86 L517.94 816.88 L519.87 816.90 L521.74 816.92 L523.25 816.93 M529.60 817.00 L530.00 817.00 L532.45 817.02 L534.95 817.04 L537.10 817.07 M543.45 817.13 L545.19 817.15 L547.76 817.17 L550.30 817.20 L550.95 817.21 M557.30 817.27 L557.67 817.28 L560.00 817.30 L562.29 817.32 L564.57 817.35 L564.80 817.35 M571.15 817.41 L571.28 817.41 L573.44 817.43 L575.55 817.46 L577.59 817.48 L578.65 817.49 M585.00 817.55 L586.63 817.57 L588.18 817.58 L589.66 817.60 L591.07 817.61 L592.41 817.62 L592.50 817.62 M598.85 817.69 L599.10 817.69 L600.00 817.70 L600.82 817.71 L601.54 817.72 L602.18 817.73 L602.74 817.74 L603.24 817.75 L603.69 817.75 L604.10 817.76 L604.48 817.77 L604.85 817.78 L605.22 817.78 L605.60 817.79 L606.00 817.80 L606.35 817.81 M612.70 818.07 L612.75 818.07 L613.00 818.10 L613.25 818.13 L613.50 818.16 L613.75 818.19 L614.00 818.23 L614.25 818.26 L614.50 818.30 L614.75 818.34 L615.00 818.39 L615.25 818.43 L615.50 818.48 L615.75 818.54 L616.00 818.60 L616.25 818.66 L616.50 818.73 L616.75 818.80 L617.00 818.88 L617.25 818.96 L617.50 819.04 L617.75 819.12 L618.00 819.21 L618.25 819.30 L618.50 819.40 L618.75 819.50 L619.00 819.60 L619.24 819.70 L619.48 819.81 L619.71 819.91 L619.94 820.02 L620.16 820.13 L620.20 820.15 M626.55 823.62 L626.70 823.70 L627.49 824.12 L628.34 824.58 L629.26 825.08 L630.25 825.60 L631.29 826.16 L632.39 826.75 L633.55 827.37 L634.05 827.63 M640.40 831.01 L641.42 831.55 L642.89 832.34 L644.42 833.15 L646.00 833.99 L647.62 834.85 L647.90 835.00 M654.25 838.36 L654.51 838.50 L656.32 839.45 L658.15 840.42 L660.00 841.40 L661.75 842.32 M668.10 845.67 L668.38 845.82 L670.64 847.01 L672.89 848.19 L675.12 849.37 L675.60 849.62 M681.95 852.96 L683.10 853.56 L684.70 854.40 M684.70 854.40 L686.15 855.16 L687.49 855.86 L688.73 856.51 L689.88 857.11 L690.93 857.66 L691.89 858.16 L692.20 858.32" stroke="#008000" stroke-width="2.3"/>
<path d="M144.80 777.40 L147.26 777.42 L150.58 777.45 L154.53 777.48 L158.90 777.51 L163.46 777.55 L167.98 777.60 L172.23 777.65 L176.00 777.70 L179.38 777.76 L182.64 777.82 L185.78 777.89 L188.81 777.97 L191.73 778.05 L194.57 778.13 L197.32 778.21 L200.00 778.30 L202.61 778.39 L205.13 778.48 L207.57 778.58 L209.92 778.67 L212.17 778.78 L214.32 778.88 L216.37 778.99 L218.30 779.10 L220.09 779.21 L221.73 779.33 L223.25 779.45 L224.67 779.57 L226.03 779.69 L227.35 779.82 L228.66 779.96 L230.00 780.10 L231.33 780.24 L232.62 780.39 L233.87 780.53 L235.11 780.68 L236.32 780.84 L237.54 781.01 L238.76 781.20 L240.00 781.40 L241.25 781.62 L242.50 781.86 L243.75 782.11 L245.00 782.38 L246.25 782.65 L247.50 782.93 L248.75 783.21 L250.00 783.50 L251.25 783.79 L252.50 784.07 L253.75 784.36 L255.00 784.66 L256.25 784.97 L257.50 785.30 L258.75 785.64 L260.00 786.00 L261.25 786.38 L262.50 786.76 L263.75 787.15 L265.00 787.56 L266.25 788.00 L267.50 788.46 L268.75 788.96 L270.00 789.50 L271.25 790.07 L272.50 790.68 L273.75 791.31 L275.00 791.97 L276.25 792.67 L277.50 793.40 L278.75 794.18 L280.00 795.00 L281.28 795.90 L282.62 796.88 L283.97 797.93 L285.31 799.00 L286.62 800.07 L287.85 801.12 L288.99 802.10 L290.00 803.00 L290.86 803.80 L291.60 804.53 L292.24 805.20 L292.81 805.84 L293.34 806.47 L293.87 807.11 L294.41 807.78 L295.00 808.50 L295.62 809.25 L296.25 810.02 L296.88 810.80 L297.50 811.59 L298.12 812.41 L298.75 813.25 L299.38 814.11 L300.00 815.00 L300.63 815.94 L301.27 816.92 L301.92 817.93 L302.56 818.97 L303.20 820.01 L303.82 821.04 L304.42 822.04 L305.00 823.00 L305.54 823.90 L306.04 824.75 L306.51 825.57 L306.97 826.38 L307.43 827.20 L307.92 828.06 L308.44 828.99 L309.00 830.00 L309.59 831.04 L310.19 832.06 L310.80 833.11 L311.44 834.21 L312.12 835.42 L312.84 836.75 L313.63 838.27 L314.50 840.00 L315.46 841.99 L316.50 844.22 L317.62 846.64 L318.78 849.19 L319.97 851.82 L321.17 854.47 L322.35 857.08 L323.50 859.60 L324.65 862.11 L325.83 864.70 L327.03 867.32 L328.22 869.93 L329.38 872.48 L330.50 874.92 L331.54 877.21 L332.50 879.30 L333.35 881.16 L334.12 882.83 L334.82 884.35 L335.47 885.76 L336.09 887.10 L336.71 888.43 L337.34 889.78 L338.00 891.20 L338.68 892.65 L339.35 894.09 L340.02 895.51 L340.69 896.93 L341.36 898.36 L342.05 899.81 L342.76 901.29 L343.50 902.80 L344.27 904.39 L345.09 906.05 L345.93 907.75 L346.78 909.46 L347.63 911.16 L348.46 912.80 L349.25 914.36 L350.00 915.80 L350.70 917.12 L351.36 918.35 L351.98 919.50 L352.59 920.60 L353.19 921.66 L353.79 922.70 L354.39 923.74 L355.00 924.80 L355.62 925.87 L356.25 926.92 L356.88 927.95 L357.50 928.98 L358.12 929.99 L358.75 931.00 L359.38 932.00 L360.00 933.00 L360.62 934.00 L361.25 934.99 L361.88 935.98 L362.50 936.96 L363.12 937.94 L363.75 938.90 L364.38 939.86 L365.00 940.80 L365.62 941.73 L366.25 942.66 L366.88 943.58 L367.50 944.49 L368.12 945.39 L368.75 946.28 L369.38 947.15 L370.00 948.00 L370.62 948.84 L371.25 949.66 L371.88 950.46 L372.50 951.26 L373.12 952.04 L373.75 952.80 L374.38 953.56 L375.00 954.30 L375.62 955.03 L376.25 955.75 L376.88 956.45 L377.50 957.14 L378.12 957.82 L378.75 958.49 L379.38 959.15 L380.00 959.80 L380.62 960.44 L381.25 961.06 L381.88 961.67 L382.50 962.28 L383.12 962.87 L383.75 963.45 L384.38 964.03 L385.00 964.60 L385.62 965.16 L386.25 965.72 L386.88 966.26 L387.50 966.80 L388.12 967.33 L388.75 967.86 L389.38 968.38 L390.00 968.90 L390.62 969.42 L391.25 969.92 L391.88 970.43 L392.50 970.92 L393.12 971.42 L393.75 971.91 L394.38 972.41 L395.00 972.90 L395.63 973.40 L396.28 973.91 L396.93 974.41 L397.58 974.92 L398.22 975.42 L398.84 975.90 L399.44 976.36 L400.00 976.80 L400.52 977.21 L401.00 977.59 L401.46 977.94 L401.89 978.29 L402.33 978.63 L402.76 978.97 L403.22 979.33 L403.70 979.70 L404.24 980.12 L404.83 980.57 L405.46 981.05 L406.08 981.53 L406.68 981.99 L407.21 982.40 L407.66 982.74 L408.00 983.00" stroke="#000" stroke-width="1.9"/>
</g>
<g transform="translate(144.70 1004.00) rotate(0.04) scale(0.93 1.0) translate(-11.90 0)"><text x="0.00" y="0.00" font-size="16.4"><tspan class="h">1</tspan>0</text><path d="M763 0H583V1098Q518 1039 412 979Q307 920 223 890V1057Q374 1125 487 1221Q600 1318 647 1409H763Z" transform="translate(0.00 0.00) scale(0.00801 -0.00801)" fill="#000" stroke="#000" stroke-width="37"/><text x="18.24" y="-8.60" font-size="10.0">0</text></g>
<g transform="translate(223.37 1004.00) rotate(0.04) scale(0.93 1.0) translate(-11.90 0)"><text x="0.00" y="0.00" font-size="16.4"><tspan class="h">1</tspan>0</text><path d="M763 0H583V1098Q518 1039 412 979Q307 920 223 890V1057Q374 1125 487 1221Q600 1318 647 1409H763Z" transform="translate(0.00 0.00) scale(0.00801 -0.00801)" fill="#000" stroke="#000" stroke-width="37"/><text x="18.24" y="-8.60" font-size="10.0"><tspan class="h">1</tspan></text><path d="M763 0H583V1098Q518 1039 412 979Q307 920 223 890V1057Q374 1125 487 1221Q600 1318 647 1409H763Z" transform="translate(18.24 -8.60) scale(0.00488 -0.00488)" fill="#000" stroke="#000" stroke-width="61"/></g>
<g transform="translate(302.04 1004.00) rotate(0.04) scale(0.93 1.0) translate(-11.90 0)"><text x="0.00" y="0.00" font-size="16.4"><tspan class="h">1</tspan>0</text><path d="M763 0H583V1098Q518 1039 412 979Q307 920 223 890V1057Q374 1125 487 1221Q600 1318 647 1409H763Z" transform="translate(0.00 0.00) scale(0.00801 -0.00801)" fill="#000" stroke="#000" stroke-width="37"/><text x="18.24" y="-8.60" font-size="10.0">2</text></g>
<g transform="translate(380.71 1004.00) rotate(0.04) scale(0.93 1.0) translate(-11.90 0)"><text x="0.00" y="0.00" font-size="16.4"><tspan class="h">1</tspan>0</text><path d="M763 0H583V1098Q518 1039 412 979Q307 920 223 890V1057Q374 1125 487 1221Q600 1318 647 1409H763Z" transform="translate(0.00 0.00) scale(0.00801 -0.00801)" fill="#000" stroke="#000" stroke-width="37"/><text x="18.24" y="-8.60" font-size="10.0">3</text></g>
<g transform="translate(459.39 1004.00) rotate(0.04) scale(0.93 1.0) translate(-11.90 0)"><text x="0.00" y="0.00" font-size="16.4"><tspan class="h">1</tspan>0</text><path d="M763 0H583V1098Q518 1039 412 979Q307 920 223 890V1057Q374 1125 487 1221Q600 1318 647 1409H763Z" transform="translate(0.00 0.00) scale(0.00801 -0.00801)" fill="#000" stroke="#000" stroke-width="37"/><text x="18.24" y="-8.60" font-size="10.0">4</text></g>
<g transform="translate(538.06 1004.00) rotate(0.04) scale(0.93 1.0) translate(-11.90 0)"><text x="0.00" y="0.00" font-size="16.4"><tspan class="h">1</tspan>0</text><path d="M763 0H583V1098Q518 1039 412 979Q307 920 223 890V1057Q374 1125 487 1221Q600 1318 647 1409H763Z" transform="translate(0.00 0.00) scale(0.00801 -0.00801)" fill="#000" stroke="#000" stroke-width="37"/><text x="18.24" y="-8.60" font-size="10.0">5</text></g>
<g transform="translate(616.73 1004.00) rotate(0.04) scale(0.93 1.0) translate(-11.90 0)"><text x="0.00" y="0.00" font-size="16.4"><tspan class="h">1</tspan>0</text><path d="M763 0H583V1098Q518 1039 412 979Q307 920 223 890V1057Q374 1125 487 1221Q600 1318 647 1409H763Z" transform="translate(0.00 0.00) scale(0.00801 -0.00801)" fill="#000" stroke="#000" stroke-width="37"/><text x="18.24" y="-8.60" font-size="10.0">6</text></g>
<g transform="translate(695.40 1004.00) rotate(0.04) scale(0.93 1.0) translate(-11.90 0)"><text x="0.00" y="0.00" font-size="16.4"><tspan class="h">1</tspan>0</text><path d="M763 0H583V1098Q518 1039 412 979Q307 920 223 890V1057Q374 1125 487 1221Q600 1318 647 1409H763Z" transform="translate(0.00 0.00) scale(0.00801 -0.00801)" fill="#000" stroke="#000" stroke-width="37"/><text x="18.24" y="-8.60" font-size="10.0">7</text></g>
<g transform="translate(136.00 576.30) rotate(0.04) scale(0.93 1.0) translate(-27.13 0)"><text x="0.00" y="0.00" font-size="16.4"><tspan class="h">1</tspan>0</text><path d="M763 0H583V1098Q518 1039 412 979Q307 920 223 890V1057Q374 1125 487 1221Q600 1318 647 1409H763Z" transform="translate(0.00 0.00) scale(0.00801 -0.00801)" fill="#000" stroke="#000" stroke-width="37"/><text x="18.24" y="-8.60" font-size="10.0">-5</text></g>
<g transform="translate(136.00 658.20) rotate(0.04) scale(0.93 1.0) translate(-27.13 0)"><text x="0.00" y="0.00" font-size="16.4"><tspan class="h">1</tspan>0</text><path d="M763 0H583V1098Q518 1039 412 979Q307 920 223 890V1057Q374 1125 487 1221Q600 1318 647 1409H763Z" transform="translate(0.00 0.00) scale(0.00801 -0.00801)" fill="#000" stroke="#000" stroke-width="37"/><text x="18.24" y="-8.60" font-size="10.0">-6</text></g>
<g transform="translate(136.00 740.10) rotate(0.04) scale(0.93 1.0) translate(-27.13 0)"><text x="0.00" y="0.00" font-size="16.4"><tspan class="h">1</tspan>0</text><path d="M763 0H583V1098Q518 1039 412 979Q307 920 223 890V1057Q374 1125 487 1221Q600 1318 647 1409H763Z" transform="translate(0.00 0.00) scale(0.00801 -0.00801)" fill="#000" stroke="#000" stroke-width="37"/><text x="18.24" y="-8.60" font-size="10.0">-7</text></g>
<g transform="translate(136.00 822.00) rotate(0.04) scale(0.93 1.0) translate(-27.13 0)"><text x="0.00" y="0.00" font-size="16.4"><tspan class="h">1</tspan>0</text><path d="M763 0H583V1098Q518 1039 412 979Q307 920 223 890V1057Q374 1125 487 1221Q600 1318 647 1409H763Z" transform="translate(0.00 0.00) scale(0.00801 -0.00801)" fill="#000" stroke="#000" stroke-width="37"/><text x="18.24" y="-8.60" font-size="10.0">-8</text></g>
<g transform="translate(136.00 903.90) rotate(0.04) scale(0.93 1.0) translate(-27.13 0)"><text x="0.00" y="0.00" font-size="16.4"><tspan class="h">1</tspan>0</text><path d="M763 0H583V1098Q518 1039 412 979Q307 920 223 890V1057Q374 1125 487 1221Q600 1318 647 1409H763Z" transform="translate(0.00 0.00) scale(0.00801 -0.00801)" fill="#000" stroke="#000" stroke-width="37"/><text x="18.24" y="-8.60" font-size="10.0">-9</text></g>
<g transform="translate(136.00 985.80) rotate(0.04) scale(0.93 1.0) translate(-32.69 0)"><text x="0.00" y="0.00" font-size="16.4"><tspan class="h">1</tspan>0</text><path d="M763 0H583V1098Q518 1039 412 979Q307 920 223 890V1057Q374 1125 487 1221Q600 1318 647 1409H763Z" transform="translate(0.00 0.00) scale(0.00801 -0.00801)" fill="#000" stroke="#000" stroke-width="37"/><text x="18.24" y="-8.60" font-size="10.0">-<tspan class="h">1</tspan>0</text><path d="M763 0H583V1098Q518 1039 412 979Q307 920 223 890V1057Q374 1125 487 1221Q600 1318 647 1409H763Z" transform="translate(21.57 -8.60) scale(0.00488 -0.00488)" fill="#000" stroke="#000" stroke-width="61"/></g>
<g transform="translate(419.50 1033.90) rotate(0.04) scale(1.0 1.06) translate(-30.62 0)"><text x="0.00" y="0.00" font-size="19">E</text><text x="12.67" y="0.00" font-size="17.3" style="letter-spacing:0.47px;">[</text><text x="17.95" y="0.00" font-size="19">GeV</text><text x="55.97" y="0.00" font-size="17.3" style="letter-spacing:0.47px;">]</text></g>
<g transform="translate(76.60 876.30) rotate(-89.96) scale(1.0 1.0)"><text x="0.00" y="0.00" font-size="19.3">E</text><text x="12.87" y="-10.90" font-size="11.0" style="letter-spacing:0.50px;">2</text><text x="19.49" y="0.00" font-size="18.4" style="font-family:'Liberation Serif',serif;">Φ</text><text x="32.94" y="0.00" font-size="17.3" style="letter-spacing:0.55px;">[</text><text x="38.30" y="0.00" font-size="19.3">GeV cm</text><text x="108.00" y="-10.90" font-size="11.0" style="letter-spacing:0.50px;">-2</text><text x="118.79" y="0.00" font-size="19.3">s</text><text x="128.44" y="-10.90" font-size="11.0" style="letter-spacing:0.50px;">-<tspan class="h">1</tspan></text><path d="M763 0H583V1098Q518 1039 412 979Q307 920 223 890V1057Q374 1125 487 1221Q600 1318 647 1409H763Z" transform="translate(132.60 -10.90) scale(0.00537 -0.00537)" fill="#000" stroke="#000" stroke-width="56"/><text x="139.22" y="0.00" font-size="19.3">sr</text><text x="155.29" y="-10.90" font-size="11.0" style="letter-spacing:0.50px;">-<tspan class="h">1</tspan></text><path d="M763 0H583V1098Q518 1039 412 979Q307 920 223 890V1057Q374 1125 487 1221Q600 1318 647 1409H763Z" transform="translate(159.46 -10.90) scale(0.00537 -0.00537)" fill="#000" stroke="#000" stroke-width="56"/><text x="166.07" y="0.00" font-size="17.3" style="letter-spacing:0.55px;">]</text></g>
<g fill="none">
<path d="M567 606.7 H602.3" stroke="#8c8c8c" stroke-width="1.95" stroke-dasharray="7.4 6.45"/>
<path d="M567 625.1 H602.3" stroke="#ff0000" stroke-width="2.3" stroke-dasharray="2.8 5.45"/>
<path d="M567 643.6 H602.3" stroke="#0000ff" stroke-width="2.1" stroke-dasharray="8.5 3.3 2.7 3.5"/>
<path d="M567 662 H602.3" stroke="#ff8000" stroke-width="2.0" stroke-dasharray="4 2.45"/>
<path d="M567 680.4 H602.3" stroke="#000" stroke-width="2.0"/>
</g>
<circle cx="584.8" cy="698.9" r="3" fill="#000"/>
<g transform="translate(605.40 611.60) rotate(0.04) scale(1.0 1.02)"><text x="0.00" y="0.00" font-size="15.1">z 0-<tspan class="h">1</tspan></text><path d="M763 0H583V1098Q518 1039 412 979Q307 920 223 890V1057Q374 1125 487 1221Q600 1318 647 1409H763Z" transform="translate(25.17 0.00) scale(0.00737 -0.00737)" fill="#000" stroke="#000" stroke-width="41"/></g>
<g transform="translate(605.40 630.00) rotate(0.04) scale(1.0 1.02)"><text x="0.00" y="0.00" font-size="15.1">z <tspan class="h">1</tspan>-2</text><path d="M763 0H583V1098Q518 1039 412 979Q307 920 223 890V1057Q374 1125 487 1221Q600 1318 647 1409H763Z" transform="translate(11.75 0.00) scale(0.00737 -0.00737)" fill="#000" stroke="#000" stroke-width="41"/></g>
<g transform="translate(605.40 648.40) rotate(0.04) scale(1.0 1.02)"><text x="0.00" y="0.00" font-size="15.1">z 2-3</text></g>
<g transform="translate(605.40 666.90) rotate(0.04) scale(1.0 1.02)"><text x="0.00" y="0.00" font-size="15.1">z 3-4</text></g>
<g transform="translate(605.40 685.80) rotate(0.04) scale(1.0 1.02)"><text x="0.00" y="0.00" font-size="15.1">Total</text></g>
<g transform="translate(605.40 703.80) rotate(0.04) scale(1.0 1.02)"><text x="0.00" y="0.00" font-size="15.1">Fermi 20<tspan class="h">1</tspan>0</text><path d="M763 0H583V1098Q518 1039 412 979Q307 920 223 890V1057Q374 1125 487 1221Q600 1318 647 1409H763Z" transform="translate(59.57 0.00) scale(0.00737 -0.00737)" fill="#000" stroke="#000" stroke-width="41"/></g>
<g style="stroke-width:0.2px"><g transform="translate(576.50 797.80) rotate(0.04) scale(1.0 1.1)"><text x="0.00" y="0.00" font-size="11.6" style="fill:#008000;stroke:#008000;">IceCube 20<tspan class="h">1</tspan>4</text><path d="M763 0H583V1098Q518 1039 412 979Q307 920 223 890V1057Q374 1125 487 1221Q600 1318 647 1409H763Z" transform="translate(59.33 0.00) scale(0.00566 -0.00566)" fill="#008000" stroke="#008000" stroke-width="53"/></g></g>
</svg></body></html>
